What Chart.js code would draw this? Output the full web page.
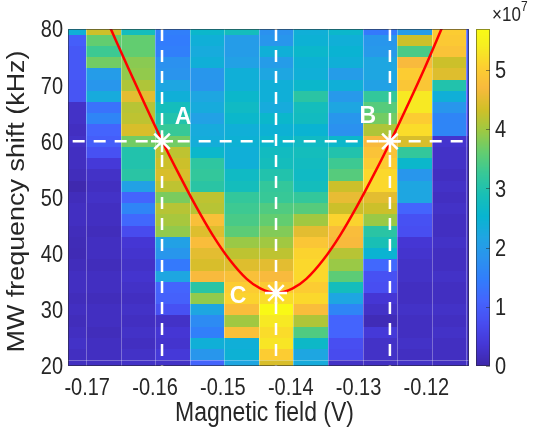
<!DOCTYPE html>
<html>
<head>
<meta charset="utf-8">
<script src="https://cdn.jsdelivr.net/npm/chart.js@4.4.1/dist/chart.umd.min.js"></script>
<style>
  html, body { margin: 0; padding: 0; background: #fff; }
</style>
</head>
<body>
<canvas id="map" width="533" height="432"></canvas>
<script>
// bin centres: magnetic field (V) and MW frequency shift (kHz, top row first)
var fieldV = [-0.17269, -0.16760, -0.16251, -0.15742, -0.15232, -0.14723, -0.14214,
              -0.13705, -0.13196, -0.12686, -0.12177, -0.11668, -0.11159];
var freqKHz = [80, 78, 76, 74, 72, 70, 68, 66, 64, 62, 60, 58, 56, 54, 52, 50,
               48, 46, 44, 42, 40, 38, 36, 34, 32, 30, 28, 26, 24, 22, 20];

// signal (x1e7), one line per field bin, 80 kHz down to 20 kHz
var signal = [
  [2.4,1.0,0.9,0.9,0.9,0.85,0.85,0.25,0.25,0.2,0.25,0.2,0.2,0.15,0.05,0.15,0.2,0.2,0.15,0.12,0.1,0.15,0.2,0.2,0.15,0.2,0.15,0.2,0.25,0.2,0.2],
  [4.3,3.6,3.3,3.7,2.0,1.9,2.3,1.3,1.6,1.1,1.0,0.8,0.4,0.25,0.2,0.25,0.2,0.2,0.15,0.2,0.2,0.15,0.2,0.2,0.15,0.2,0.2,0.15,0.2,0.2,0.2],
  [2.8,3.6,3.6,3.85,3.9,4.1,4.5,4.15,4.2,4.4,3.7,3.0,3.0,3.1,2.1,1.1,1.6,1.15,0.7,0.35,0.3,0.25,0.3,0.25,0.2,0.25,0.2,0.25,0.2,0.25,0.25],
  [1.5,1.45,1.5,1.8,1.85,2.2,2.4,2.8,3.0,3.25,3.7,4.2,4.3,4.4,4.2,3.75,4.15,4.05,3.9,2.1,1.9,1.4,2.2,1.1,1.05,0.8,0.25,0.35,0.3,0.4,0.25],
  [2.6,2.4,2.3,2.4,1.9,1.85,2.2,2.3,2.1,2.3,2.35,2.6,3.15,3.2,3.1,4.2,4.15,4.8,4.45,4.75,4.5,4.4,4.7,3.1,3.9,2.2,1.7,1.5,2.4,1.9,1.1],
  [2.8,2.0,2.0,2.1,2.4,2.4,2.6,2.7,2.6,2.4,2.45,2.4,2.4,2.7,2.8,3.2,3.3,3.4,3.55,3.95,4.2,4.45,4.8,5.0,5.1,4.75,4.0,4.8,2.4,2.45,2.2],
  [1.8,1.9,2.4,2.0,2.2,2.4,2.4,2.3,2.6,2.45,2.6,2.75,2.8,3.0,3.2,3.25,3.45,3.6,3.8,4.0,4.2,4.5,4.7,4.95,5.2,5.65,5.35,5.2,5.3,5.0,4.4],
  [2.4,2.45,2.6,2.45,2.4,2.6,3.1,2.8,2.75,2.5,2.7,2.8,2.75,2.7,2.8,3.2,3.5,4.0,4.5,4.9,5.1,5.15,5.15,5.0,5.15,4.75,4.1,3.45,2.65,2.2,2.3],
  [2.6,2.4,2.5,2.4,2.0,2.4,1.95,2.2,1.9,1.8,2.6,3.0,3.3,3.5,4.3,4.55,4.3,5.1,4.75,4.7,4.15,3.95,3.55,2.8,2.2,1.6,1.1,1.1,0.75,0.7,0.25],
  [1.4,1.9,1.95,2.2,2.2,2.1,3.2,3.5,3.7,4.1,4.7,4.85,5.0,5.15,5.15,4.5,4.3,3.95,3.1,2.9,2.5,1.15,0.8,0.75,0.35,0.25,0.12,0.4,0.25,0.25,0.2],
  [2.0,4.3,3.4,4.7,5.0,4.9,5.35,5.35,5.0,5.2,4.4,3.2,2.6,1.9,2.2,2.2,1.1,0.8,0.75,0.35,0.3,0.25,0.25,0.2,0.2,0.25,0.2,0.2,0.25,0.2,0.25],
  [5.0,4.95,4.85,4.3,4.45,3.0,2.4,1.9,1.6,1.6,0.3,0.25,0.25,0.2,0.25,0.2,0.25,0.2,0.2,0.25,0.2,0.2,0.25,0.2,0.2,0.25,0.2,0.25,0.2,0.2,0.2],
  [1.0,1.0,1.0,0.95,0.95,0.8,0.8,0.75,0.7,0.7,0.3,0.25,0.25,0.25,0.25,0.25,0.25,0.25,0.25,0.25,0.25,0.25,0.25,0.25,0.25,0.25,0.25,0.25,0.25,0.25,0.25]
];
var signalMax = 5.69;

// resonance curve
var curveV = [-0.1667, -0.1640, -0.1615, -0.1590, -0.1565, -0.1540, -0.1515, -0.1490, -0.1465, -0.1445, -0.1421,
              -0.1397, -0.1377, -0.1352, -0.1327, -0.1302, -0.1277, -0.1252, -0.1227, -0.1202, -0.1176];
var curveF = [80.5, 73.2, 66.6, 60.2, 54.2, 48.5, 43.3, 38.9, 35.5, 33.8, 33.0,
              33.8, 35.5, 38.9, 43.3, 48.5, 54.2, 60.2, 66.6, 73.2, 80.5];

// marked points
var markNames = ['A', 'B', 'C'];
var markV = [-0.15897, -0.12538, -0.14217];
var markF = [60, 60, 33];

// parula, every 4th entry of the 64-step table
var parulaStops = [
  [0.2422,0.1504,0.6603],[0.2706,0.2147,0.8364],[0.2813,0.3006,0.9414],[0.2699,0.3892,0.9906],
  [0.1963,0.4847,0.9892],[0.1687,0.5703,0.9359],[0.1248,0.6459,0.8883],[0.0297,0.7082,0.8163],
  [0.0964,0.7500,0.7120],[0.2161,0.7843,0.5923],[0.3909,0.8029,0.4354],[0.6174,0.7876,0.2612],
  [0.8203,0.7498,0.1535],[0.9728,0.7298,0.2394],[0.9892,0.8136,0.1885],[0.9628,0.9373,0.1265],
  [0.9769,0.9839,0.0805]
];
function parula(t) {
  t = Math.max(0, Math.min(1, t));
  var p = t * 63;
  var k = Math.min(15, Math.floor(p / 4));
  var f = (p - 4 * k) / (k === 15 ? 3 : 4);
  var a = parulaStops[k], b = parulaStops[k + 1];
  var c = a.map(function (v, i) { return Math.round(255 * (v + (b[i] - v) * f)); });
  return 'rgb(' + c.join(',') + ')';
}

function edges(centres) {
  var e = [];
  for (var i = 0; i <= centres.length; i++) {
    if (i === 0) e.push(centres[0] - (centres[1] - centres[0]) / 2);
    else if (i === centres.length) e.push(centres[i - 1] + (centres[i - 1] - centres[i - 2]) / 2);
    else e.push((centres[i - 1] + centres[i]) / 2);
  }
  return e;
}

var FONT = '"Liberation Sans", Arial, Helvetica, sans-serif';
var INK = '#262626';
var TALL = 1.17;   // glyphs are drawn a little taller than wide

// text drawn stretched vertically, baseline at (x, y)
function tallText(ctx, str, x, y, align, size) {
  ctx.save();
  ctx.font = size + 'px ' + FONT;
  ctx.textAlign = align;
  ctx.textBaseline = 'alphabetic';
  ctx.translate(x, y);
  ctx.scale(1, TALL);
  ctx.fillText(str, 0, 0);
  ctx.restore();
}

var heatmap = {
  id: 'heatmap',
  beforeDatasetsDraw: function (chart) {
    var ctx = chart.ctx, a = chart.chartArea, x = chart.scales.x, y = chart.scales.y;
    var xe = edges(fieldV), ye = edges(freqKHz);
    ctx.save();
    ctx.beginPath();
    ctx.rect(a.left, a.top, a.right - a.left, a.bottom - a.top);
    ctx.clip();
    for (var i = 0; i < fieldV.length; i++) {
      var x0 = Math.round(x.getPixelForValue(xe[i]));
      var x1 = Math.round(x.getPixelForValue(xe[i + 1]));
      for (var j = 0; j < freqKHz.length; j++) {
        var y0 = Math.round(y.getPixelForValue(ye[j]));
        var y1 = Math.round(y.getPixelForValue(ye[j + 1]));
        ctx.fillStyle = parula(signal[i][j] / signalMax);
        ctx.fillRect(x0, y0, x1 - x0, y1 - y0);
      }
    }
    // faint seams between field bins
    ctx.strokeStyle = 'rgba(255,255,255,0.3)';
    ctx.lineWidth = 1;
    ctx.beginPath();
    for (var k = 1; k < xe.length - 1; k++) {
      var px = Math.round(x.getPixelForValue(xe[k])) + 0.5;
      ctx.moveTo(px, a.top);
      ctx.lineTo(px, a.bottom);
    }
    var py = Math.round(y.getPixelForValue(ye[ye.length - 2])) + 0.5;
    ctx.moveTo(a.left, py);
    ctx.lineTo(a.right, py);
    ctx.stroke();
    ctx.restore();
  },
  afterDatasetsDraw: function (chart) {
    var ctx = chart.ctx, a = chart.chartArea, x = chart.scales.x, y = chart.scales.y;
    ctx.save();
    // point names
    var offsets = [[21, -24], [-22, -25], [-38, 4]];
    ctx.fillStyle = '#fff';
    ctx.font = 'bold 23px ' + FONT;
    ctx.textAlign = 'center';
    ctx.textBaseline = 'middle';
    for (var i = 0; i < markNames.length; i++) {
      ctx.fillText(markNames[i], x.getPixelForValue(markV[i]) + offsets[i][0],
                   y.getPixelForValue(markF[i]) + offsets[i][1]);
    }
    // axes box
    ctx.strokeStyle = 'rgba(38,38,38,0.55)';
    ctx.lineWidth = 1;
    ctx.strokeRect(a.left + 0.5, a.top + 0.5, a.right - a.left - 1, a.bottom - a.top - 1);
    ctx.restore();
  }
};

var colorbar = {
  id: 'colorbar',
  afterDraw: function (chart) {
    var ctx = chart.ctx, s = chart.scales.cb;
    var x0 = s.left + 7, w = 14;
    var top = s.getPixelForValue(s.max), bottom = s.getPixelForValue(s.min);
    ctx.save();
    for (var p = Math.floor(top); p < bottom; p++) {
      ctx.fillStyle = parula(s.getValueForPixel(p + 0.5) / signalMax);
      ctx.fillRect(x0, p, w, 1);
    }
    ctx.strokeStyle = 'rgba(38,38,38,0.5)';
    ctx.lineWidth = 1;
    ctx.strokeRect(x0 + 0.5, top + 0.5, w - 1, bottom - top - 1);
    ctx.beginPath();
    s.ticks.forEach(function (t) {
      var py = Math.round(s.getPixelForValue(t.value)) + 0.5;
      ctx.moveTo(x0 + w - 4, py);
      ctx.lineTo(x0 + w, py);
    });
    ctx.stroke();
    ctx.restore();
  }
};

// tick labels, axis titles and the colorbar exponent
var labels = {
  id: 'labels',
  afterDraw: function (chart) {
    var ctx = chart.ctx, a = chart.chartArea, sc = chart.scales;
    ctx.save();
    ctx.fillStyle = INK;
    sc.x.ticks.forEach(function (t) {
      tallText(ctx, t.value.toFixed(2), sc.x.getPixelForValue(t.value), a.bottom + 29, 'center', 20);
    });
    sc.y.ticks.forEach(function (t) {
      tallText(ctx, String(t.value), a.left - 5, sc.y.getPixelForValue(t.value) + 8.4, 'right', 20);
    });
    sc.cb.ticks.forEach(function (t) {
      tallText(ctx, String(t.value), sc.cb.left + 26, sc.cb.getPixelForValue(t.value) + 8.4, 'left', 20);
    });
    tallText(ctx, 'Magnetic field (V)', (a.left + a.right) / 2 - 4, 421, 'center', 23);
    // rotated title, stretched along its length
    ctx.save();
    ctx.font = '23px ' + FONT;
    ctx.textAlign = 'center';
    ctx.textBaseline = 'alphabetic';
    ctx.translate(24, (a.top + a.bottom) / 2 + 4);
    ctx.rotate(-Math.PI / 2);
    ctx.scale(TALL, 1);
    ctx.fillText('MW frequency shift (kHz)', 0, 0);
    ctx.restore();
    tallText(ctx, '\u00d710', sc.cb.left + 23, 21, 'left', 17);
    tallText(ctx, '7', sc.cb.left + 52, 11, 'left', 12);
    ctx.restore();
  }
};

// keep the vertical axes from reserving room for their end labels
function noEndPadding(s) { s.paddingTop = 0; s.paddingBottom = 0; }

var dashed = { borderColor: '#fff', borderWidth: 2.5, borderDash: [12, 9], pointRadius: 0, showLine: true, order: 3 };

var datasets = [
  {
    label: 'marks',
    data: markV.map(function (v, i) { return { x: v, y: markF[i] }; }),
    pointStyle: 'star',
    pointRadius: 11,
    borderColor: '#fff',
    borderWidth: 2.5,
    showLine: false,
    order: 1
  },
  {
    label: 'fit',
    data: curveV.map(function (v, i) { return { x: v, y: curveF[i] }; }),
    borderColor: '#ff0000',
    borderWidth: 2.5,
    pointRadius: 0,
    showLine: true,
    cubicInterpolationMode: 'monotone',
    order: 2
  },
  Object.assign({ label: 'f60', data: [{ x: -0.2, y: markF[0] }, { x: -0.1, y: markF[0] }] }, dashed)
];
markV.forEach(function (v, i) {
  datasets.push(Object.assign({ label: 'v' + markNames[i], data: [{ x: v, y: 80 }, { x: v, y: 20 }] }, dashed));
});

var hiddenTicks = { display: false };

new Chart(document.getElementById('map').getContext('2d'), {
  type: 'scatter',
  data: { datasets: datasets },
  plugins: [heatmap, colorbar, labels],
  options: {
    responsive: false,
    animation: false,
    layout: { padding: { top: 29, left: 0, right: 0, bottom: 0 } },
    plugins: { legend: { display: false }, tooltip: { enabled: false } },
    scales: {
      x: {
        type: 'linear',
        position: 'bottom',
        min: -0.17283,
        max: -0.11372,
        grid: { display: false, drawTicks: false },
        border: { display: false },
        ticks: Object.assign({ stepSize: 0.01, includeBounds: false }, hiddenTicks),
        afterFit: function (s) { s.height = 66; s.paddingLeft = 0; s.paddingRight = 0; }
      },
      y: {
        type: 'linear',
        position: 'left',
        min: 20,
        max: 80,
        grid: { display: false, drawTicks: false },
        border: { display: false },
        ticks: Object.assign({ stepSize: 10, includeBounds: false }, hiddenTicks),
        afterFit: function (s) { s.width = 68; noEndPadding(s); }
      },
      cb: {
        type: 'linear',
        position: 'right',
        min: 0,
        max: signalMax,
        grid: { display: false, drawTicks: false },
        border: { display: false },
        ticks: Object.assign({ stepSize: 1, includeBounds: false }, hiddenTicks),
        afterFit: function (s) { s.width = 64; noEndPadding(s); }
      }
    }
  }
});
</script>
</body>
</html>
